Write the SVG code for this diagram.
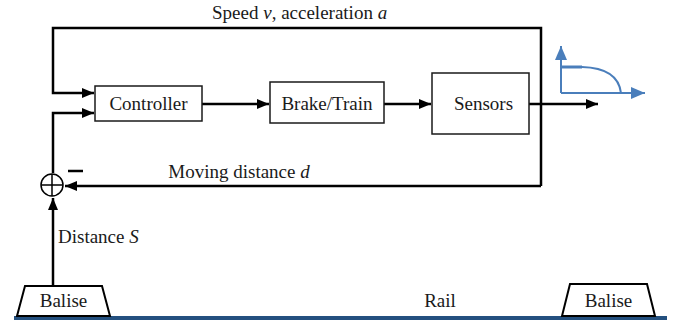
<svg xmlns="http://www.w3.org/2000/svg" width="679" height="322" viewBox="0 0 679 322">
<style>
text{font-family:"Liberation Serif","Times New Roman",serif;font-size:19px;fill:#1a1a1a}
.box{fill:#fff;stroke:#1a1a1a;stroke-width:1.5}
.ln{fill:none;stroke:#000;stroke-width:2.5}
.bl{fill:none;stroke:#4a7ebb;stroke-width:2}
.mid{text-anchor:middle}
</style>
<defs>
<marker id="ah" markerUnits="userSpaceOnUse" markerWidth="12" markerHeight="10" refX="12" refY="5" orient="auto"><path d="M0,0 L12,5 L0,10 Z" fill="#000"/></marker>
<marker id="bh" markerUnits="userSpaceOnUse" markerWidth="14" markerHeight="12" refX="14" refY="6" orient="auto"><path d="M0,0 L14,6 L0,12 Z" fill="#4a7ebb"/></marker>
</defs>
<rect x="14" y="316" width="653" height="4" fill="#24507f"/>
<g id="connectors">
<path class="ln" d="M541,186 V28 H53 V93 H94" marker-end="url(#ah)"/>
<path class="ln" d="M53,173 V113 H94" marker-end="url(#ah)"/>
<path class="ln" d="M202,104 H269" marker-end="url(#ah)"/>
<path class="ln" d="M384,104 H431" marker-end="url(#ah)"/>
<path class="ln" d="M529,104 H598" marker-end="url(#ah)"/>
<path class="ln" d="M541,186 H65" marker-end="url(#ah)"/>
<path class="ln" d="M53,286 V198" marker-end="url(#ah)"/>
</g>
<g id="controller"><rect class="box" x="95" y="86" width="107" height="35"/><text class="mid" x="148.5" y="110">Controller</text></g>
<g id="brake"><rect class="box" x="270" y="82" width="114" height="41"/><text class="mid" x="327" y="110">Brake/Train</text></g>
<g id="sensors"><rect class="box" x="432" y="73" width="97" height="61"/><text class="mid" x="483.5" y="110">Sensors</text></g>
<g id="sum"><circle cx="52" cy="185" r="11" fill="#fff" stroke="#000" stroke-width="1.5"/><path d="M41,185 H63 M52,174 V196" stroke="#000" stroke-width="1.5"/><path d="M68,171 H83" stroke="#000" stroke-width="2.5"/></g>
<g id="graph">
<path class="bl" d="M561,93 V46" marker-end="url(#bh)"/>
<path class="bl" d="M561,93 H645" marker-end="url(#bh)"/>
<path d="M561,67 H582" stroke="#4a7ebb" stroke-width="3" fill="none"/>
<path class="bl" d="M582,67 Q618,68 621,93" stroke-width="1.8"/>
</g>
<g id="balise-left"><path d="M25,286 H102 L110,316 H17 Z" fill="#fff" stroke="#000" stroke-width="2"/><text class="mid" x="63.5" y="307">Balise</text></g>
<g id="balise-right"><path d="M570,284 H647 L655,316 H562 Z" fill="#fff" stroke="#000" stroke-width="2"/><text class="mid" x="608.5" y="307">Balise</text></g>
<text x="212" y="19">Speed <tspan font-style="italic">v</tspan>, acceleration <tspan font-style="italic">a</tspan></text>
<text class="mid" x="239" y="178">Moving distance <tspan font-style="italic">d</tspan></text>
<text x="58" y="243">Distance <tspan font-style="italic">S</tspan></text>
<text class="mid" x="440" y="307">Rail</text>
</svg>
